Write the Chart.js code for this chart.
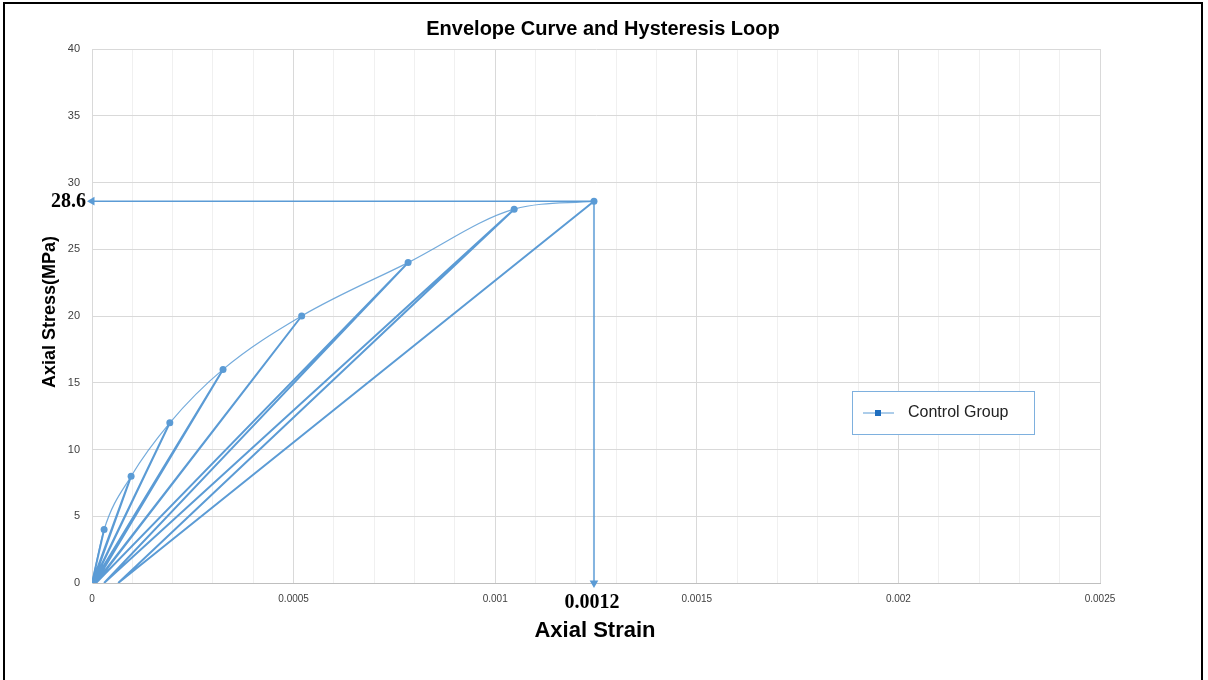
<!DOCTYPE html>
<html>
<head>
<meta charset="utf-8">
<script src="https://cdn.jsdelivr.net/npm/chart.js@4.4.1/dist/chart.umd.min.js"></script>
<style>
  html, body { margin: 0; padding: 0; background: #fff; overflow: hidden; }
  #wrap { position: absolute; left: 0; top: 0; width: 1208px; height: 680px; }
  #frame { position: absolute; left: 3px; top: 2px; width: 1200px; height: 690px; border: 2px solid #000; box-sizing: border-box; pointer-events: none; }
</style>
</head>
<body>
<div id="wrap"><canvas id="c" width="1208" height="680"></canvas></div>
<div id="frame"></div>
<script>
// ---- data ----
const envelopeStrain = [0, 0.00003, 0.000097, 0.000193, 0.000325, 0.00052, 0.000784, 0.001047, 0.001245];
const envelopeStress = [0, 4, 8, 12, 16, 20, 24, 28, 28.6];

const loopStrain = [0, 0.00003, 0, 0.000097, 0.000002, 0.000193, 0.000003, 0.000325, 0.000008, 0.00052, 0.00001, 0.000784, 0.00003, 0.001047, 0.000065, 0.001245];
const loopStress = [0, 4, 0, 8, 0, 12, 0, 16, 0, 20, 0, 24, 0, 28, 0, 28.6];

const peakStrain = 0.001245;
const peakStress = 28.6;
const peakStrainLabel = "0.0012";
const peakStressLabel = "28.6";

const xTickLabels = ["0", "0.0005", "0.001", "0.0015", "0.002", "0.0025"];
const yTickLabels = ["0", "5", "10", "15", "20", "25", "30", "35", "40"];

const seriesName = "Control Group";
const chartTitle = "Envelope Curve and Hysteresis Loop";
const xTitle = "Axial Strain";
const yTitle = "Axial Stress(MPa)";

// ---- build ----
const blue = "#5B9BD5";
const pts = (xs, ys) => xs.map((x, i) => ({ x: x, y: ys[i] }));

const overlay = {
  id: "overlay",
  afterDraw(chart) {
    const ctx = chart.ctx;
    const xs = chart.scales.x, ys = chart.scales.y;
    const ca = chart.chartArea;
    ctx.save();
    // title
    ctx.fillStyle = "#000";
    ctx.textAlign = "center";
    ctx.textBaseline = "middle";
    ctx.font = "bold 20px 'Liberation Sans', Arial, sans-serif";
    ctx.fillText(chartTitle, 603, 29);
    // x title
    ctx.font = "bold 22px 'Liberation Sans', Arial, sans-serif";
    ctx.fillText(xTitle, 595, 631);
    // y title
    ctx.save();
    ctx.translate(50, 312);
    ctx.rotate(-Math.PI / 2);
    ctx.font = "bold 18px 'Liberation Sans', Arial, sans-serif";
    ctx.fillText(yTitle, 0, 0);
    ctx.restore();
    // peak labels
    ctx.font = "bold 20px 'Liberation Serif', 'Times New Roman', serif";
    ctx.textAlign = "right";
    ctx.fillText(peakStressLabel, 86, ys.getPixelForValue(peakStress) + 1);
    ctx.textAlign = "center";
    ctx.fillText(peakStrainLabel, xs.getPixelForValue(peakStrain) - 2, ca.bottom + 20);
    // legend
    const lx = 852, ly = 391, lw = 182, lh = 43;
    ctx.fillStyle = "#fff";
    ctx.fillRect(lx, ly, lw, lh);
    ctx.strokeStyle = "#7EB0DE";
    ctx.lineWidth = 1;
    ctx.strokeRect(lx + 0.5, ly + 0.5, lw, lh);
    const my = ly + lh / 2 + 0.5;
    ctx.strokeStyle = blue;
    ctx.beginPath();
    ctx.moveTo(863, my);
    ctx.lineTo(894, my);
    ctx.stroke();
    ctx.fillStyle = "#1F6EBF";
    ctx.fillRect(875, my - 3, 6, 6);
    ctx.fillStyle = "#222";
    ctx.textAlign = "left";
    ctx.font = "16px 'Liberation Sans', Arial, sans-serif";
    ctx.fillText(seriesName, 908, my);
    ctx.restore();
  }
};

new Chart(document.getElementById("c"), {
  type: "scatter",
  data: {
    datasets: [
      {
        label: "loops",
        data: pts(loopStrain, loopStress),
        showLine: true,
        borderColor: blue,
        borderWidth: 2,
        pointRadius: 0,
        tension: 0,
        order: 3
      },
      {
        label: seriesName,
        data: pts(envelopeStrain, envelopeStress),
        showLine: true,
        borderColor: "rgba(91,155,213,0.85)",
        borderWidth: 1.2,
        backgroundColor: blue,
        pointRadius: 3.5,
        pointBorderWidth: 0,
        pointBackgroundColor: blue,
        cubicInterpolationMode: "monotone",
        order: 1
      },
      {
        label: "hArrow",
        data: [{ x: peakStrain, y: peakStress }, { x: 0, y: peakStress }],
        showLine: true,
        borderColor: blue,
        borderWidth: 1.5,
        pointStyle: "triangle",
        pointRadius: [0, 5],
        pointRotation: 270,
        pointBackgroundColor: blue,
        pointBorderWidth: 0,
        clip: false,
        order: 2
      },
      {
        label: "vArrow",
        data: [{ x: peakStrain, y: peakStress }, { x: peakStrain, y: 0 }],
        showLine: true,
        borderColor: "rgba(91,155,213,0.75)",
        borderWidth: 2,
        pointStyle: "triangle",
        pointRadius: [0, 5],
        pointRotation: 180,
        pointBackgroundColor: blue,
        pointBorderWidth: 0,
        clip: false,
        order: 2
      }
    ]
  },
  options: {
    responsive: false,
    animation: false,
    events: [],
    layout: { padding: { left: 0, top: 49, right: 108, bottom: 0 } },
    plugins: { legend: { display: false }, title: { display: false }, tooltip: { enabled: false } },
    scales: {
      x: {
        type: "linear",
        min: 0,
        max: 0.0025,
        afterFit(s) { s.height = 97; },
        afterBuildTicks(s) {
          const t = [];
          for (let i = 0; i <= 25; i++) t.push({ value: i * 0.0001 });
          s.ticks = t;
        },
        ticks: {
          padding: 10,
          color: "#404040",
          font: { size: 10, family: "'Liberation Sans', Arial, sans-serif" },
          autoSkip: false,
          maxRotation: 0,
          callback(v, i) { return i % 5 === 0 ? xTickLabels[i / 5] : ""; }
        },
        grid: {
          drawTicks: false,
          color(c) { return c.index % 5 === 0 ? "#D9D9D9" : "#F0F0F0"; },
          lineWidth: 1
        },
        border: { color: "#BFBFBF", width: 1 }
      },
      y: {
        type: "linear",
        min: 0,
        max: 40,
        afterFit(s) { s.width = 92; },
        afterBuildTicks(s) {
          s.ticks = yTickLabels.map(v => ({ value: Number(v) }));
        },
        ticks: {
          padding: 12,
          color: "#404040",
          font: { size: 11, family: "'Liberation Sans', Arial, sans-serif" },
          callback(v, i) { return yTickLabels[i]; }
        },
        grid: { drawTicks: false, color: "#D9D9D9", lineWidth: 1 },
        border: { color: "#D9D9D9", width: 1 }
      }
    }
  },
  plugins: [overlay]
});
</script>
</body>
</html>
